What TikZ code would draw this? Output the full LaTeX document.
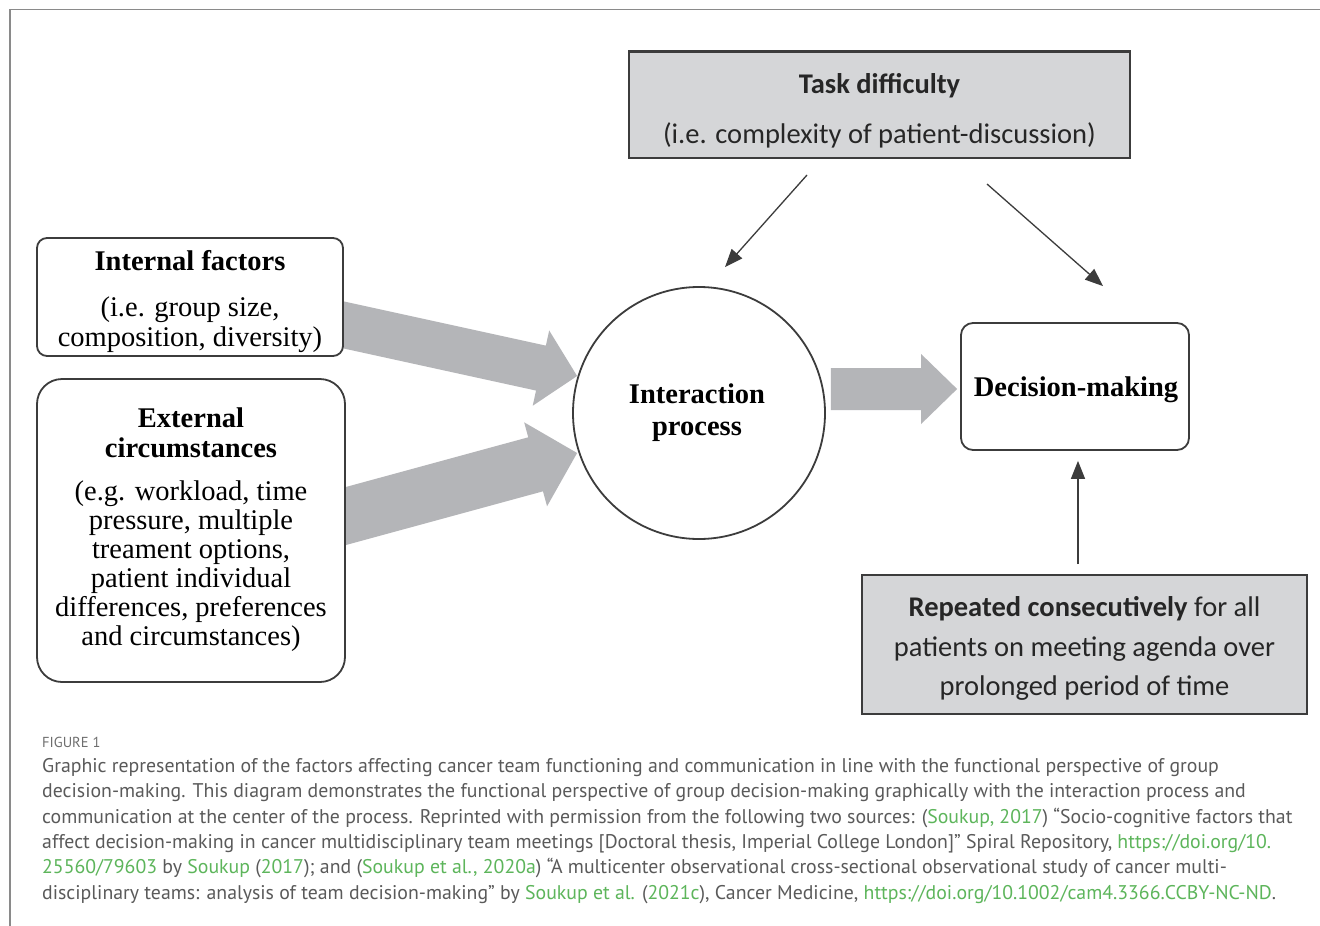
\documentclass[tikz,border=0pt]{standalone}
\usepackage{fontspec}
\setmainfont{Liberation Serif}
\newfontfamily\calib{Carlito}
\newfontfamily\capfont{PT Sans}
\usetikzlibrary{calc,arrows.meta}
\definecolor{boxgray}{HTML}{D5D6D8}
\definecolor{arrgray}{HTML}{B4B5B8}
\definecolor{edgecol}{HTML}{3C3C3C}
\definecolor{framegray}{HTML}{8A8A8A}
\definecolor{captext}{HTML}{5A5A5A}
\definecolor{figlabel}{HTML}{6E6E6E}
\definecolor{linkgreen}{HTML}{5DB55B}
\pgfdeclarelayer{bg}
\pgfdeclarelayer{paper}
\pgfsetlayers{paper,bg,main}
\newcommand\lnk[1]{{\color{linkgreen}#1}}
% #1 start, #2 tip, #3 shaft half width, #4 head length, #5 head half width, #6 prefix
\newcommand\fatarrow[6]{%
  \coordinate (#6b) at ($(#2)!#4!(#1)$);
  \fill[arrgray] ($(#1)!#3!90:(#2)$) -- ($(#6b)!#3!-90:(#1)$) -- ($(#6b)!#5!-90:(#1)$)
    -- (#2) -- ($(#6b)!#5!90:(#1)$) -- ($(#6b)!#3!90:(#1)$) -- ($(#1)!#3!-90:(#2)$) -- cycle;}
\tikzset{
  serifbold/.style={font=\fontsize{28.5}{30}\selectfont\bfseries, text=black, inner sep=0pt, anchor=base},
  serifreg/.style={font=\fontsize{28.5}{30}\selectfont, text=black, inner sep=0pt, anchor=base},
  calbold/.style={font=\calib\fontsize{28.5}{30}\selectfont\bfseries, text=black!85, inner sep=0pt, anchor=base},
  calreg/.style={font=\calib\fontsize{28.5}{30}\selectfont, text=black!85, inner sep=0pt, anchor=base},
  roundbox/.style={draw=edgecol, line width=1.8pt, fill=white, inner sep=0pt},
  graybox/.style={draw=edgecol, line width=2pt, fill=boxgray, inner sep=0pt},
  thinarrow/.style={draw=edgecol, line width=1.3pt, -{Triangle[length=18pt,width=14pt]}},
  capline/.style={font=\capfont\fontsize{19.8}{25}\selectfont, text=captext, inner sep=0pt, anchor=base west},
}
\begin{document}
\begin{tikzpicture}[x=1pt,y=-1pt]
\useasboundingbox (0,0) rectangle (1320,926);
\begin{pgfonlayer}{paper}
\fill[white] (0,0) rectangle (1320,926);
\end{pgfonlayer}
\draw[framegray, line width=1.6pt] (10,926) -- (10,9.5) -- (1320,9.5);

% boxes
\node[graybox, minimum width=501, minimum height=106] (task) at (879.5,105) {};
\draw[edgecol, line width=2.6pt] (task.north west) -- (task.north east);
\node[roundbox, rounded corners=10pt, minimum width=306, minimum height=118] (int) at (190,297) {};
\node[roundbox, rounded corners=25pt, minimum width=308, minimum height=303] (ext) at (191,530.5) {};
\node[draw=edgecol, line width=1.8pt, fill=white, circle, minimum size=252, inner sep=0pt] (circ) at (699,413) {};
\node[roundbox, rounded corners=12pt, minimum width=228, minimum height=127] (dec) at (1075,386.5) {};
\node[graybox, minimum width=445, minimum height=139] (rep) at (1084.5,644.5) {};

% texts
\node[calbold] (tasktitle) at (879.5,93) {Task difficulty};
\begin{scope}
\clip (630,60) rectangle (1129,148);
\node[calreg] (tasksub) at (879.5,143) {(i.e. complexity of patient-discussion)};
\end{scope}
\node[serifbold] (intt) at (190,270) {Internal factors};
\node[serifreg] (int1) at (190,316) {(i.e. group size,};
\node[serifreg] (int2) at (190,346) {composition, diversity)};
\node[serifbold] (ext1) at (191,427) {External};
\node[serifbold] (ext2) at (191,457) {circumstances};
\node[serifreg] (ext3) at (191,500) {(e.g. workload, time};
\node[serifreg] (ext4) at (191,529) {pressure, multiple};
\node[serifreg] (ext5) at (191,558) {treament options,};
\node[serifreg] (ext6) at (191,587) {patient individual};
\node[serifreg] (ext7) at (191,616) {differences, preferences};
\node[serifreg] (ext8) at (191,645) {and circumstances)};
\node[serifbold] (ip1) at (697,403) {Interaction};
\node[serifbold] (ip2) at (697,435) {process};
\node[serifbold] (dect) at (1076,396) {Decision-making};
\node[calreg] (rep1) at (1084.5,616) {\textbf{Repeated consecutively} for all};
\node[calreg] (rep2) at (1084.5,656) {patients on meeting agenda over};
\node[calreg] (rep3) at (1084.5,695) {prolonged period of time};

% thick arrows
\coordinate (a1s) at ([xshift=-15pt,yshift=-24.7pt]int.east);
\coordinate (a1e) at ([xshift=5pt,yshift=37pt]circ.west);
\coordinate (a2s) at ([xshift=-15pt,yshift=10.4pt]ext.east);
\coordinate (a2e) at ([xshift=5pt,yshift=-40pt]circ.west);
\coordinate (a3s) at ([xshift=5pt,yshift=24pt]circ.east);
\coordinate (a3e) at ([xshift=-3pt,yshift=-2.5pt]dec.west);
\begin{pgfonlayer}{bg}
\fatarrow{a1s}{a1e}{23pt}{37pt}{38.5pt}{aa}
\fatarrow{a2s}{a2e}{28pt}{43pt}{43.5pt}{ab}
\fatarrow{a3s}{a3e}{21pt}{36pt}{35pt}{ac}
\end{pgfonlayer}

% thin arrows
\draw[thinarrow] ([xshift=-72.5pt,yshift=-16pt]task.south) -- ([xshift=26pt,yshift=19pt]circ.north);
\draw[thinarrow] ([xshift=107.5pt,yshift=-25pt]task.south) -- ([xshift=28pt,yshift=36pt]dec.north);
\draw[thinarrow] ([xshift=-6.5pt,yshift=10pt]rep.north) -- ([xshift=3pt,yshift=-10pt]dec.south);

% caption
\node[capline, text=figlabel, font=\capfont\fontsize{14.5}{16}\selectfont] (figno) at (42,747) {FIGURE 1};
\node[capline] (c1) at (42,772) {Graphic representation of the factors affecting cancer team functioning and communication in line with the functional perspective of group};
\node[capline] (c2) at (42,797.5) {decision-making. This diagram demonstrates the functional perspective of group decision-making graphically with the interaction process and};
\node[capline] (c3) at (42,823) {communication at the center of the process. Reprinted with permission from the following two sources: (\lnk{Soukup, 2017}) “Socio-cognitive factors that};
\node[capline] (c4) at (42,848) {affect decision-making in cancer multidisciplinary team meetings [Doctoral thesis, Imperial College London]” Spiral Repository, \lnk{https://doi.org/10.}};
\node[capline] (c5) at (42,873.5) {\lnk{25560/79603} by \lnk{Soukup} (\lnk{2017}); and (\lnk{Soukup et al., 2020a}) “A multicenter observational cross-sectional observational study of cancer multi-};
\node[capline] (c6) at (42,899) {disciplinary teams: analysis of team decision-making” by \lnk{Soukup et al.} (\lnk{2021c}), Cancer Medicine, \lnk{https://doi.org/10.1002/cam4.3366.CCBY-NC-ND}.};
\end{tikzpicture}
\end{document}
